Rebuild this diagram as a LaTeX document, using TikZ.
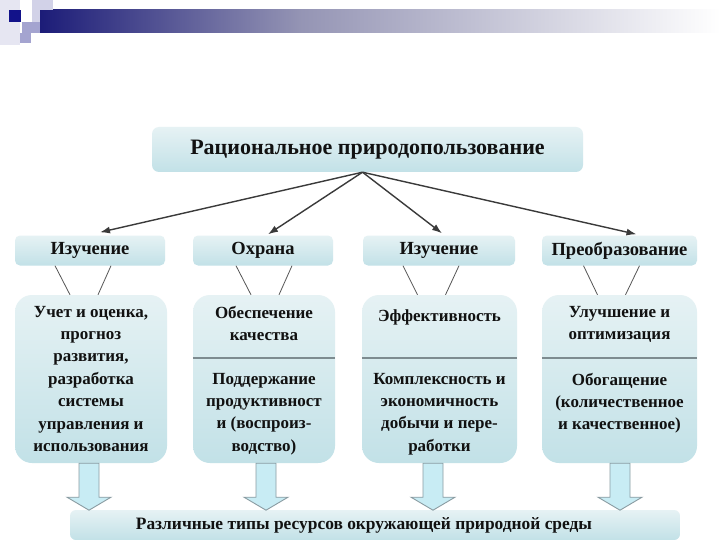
\documentclass[tikz,border=0pt]{standalone}
\usepackage{fontspec}
\setmainfont{Liberation Serif}
\usepackage{tikz}
\usepackage{xcolor}
\usetikzlibrary{arrows.meta,positioning,calc}
\definecolor{ink}{HTML}{111111}
\definecolor{inkgray}{HTML}{3A3A3A}
\definecolor{linegray}{HTML}{555555}
\definecolor{barnavy}{HTML}{1C1C78}
\definecolor{barmid}{HTML}{9494B4}
\definecolor{sqdark}{HTML}{12128A}
\definecolor{sqmid}{HTML}{A4A4D0}
\definecolor{sqlight}{HTML}{D2D2E8}
\definecolor{sqpale}{HTML}{E6E6F2}
\definecolor{boxtop}{HTML}{E6F2F4}
\definecolor{boxbot}{HTML}{C2E1E7}
\definecolor{divgray}{HTML}{7D8B90}
\definecolor{arrfill}{HTML}{C8ECF4}
\definecolor{arrline}{HTML}{8A9CA2}
\tikzset{
  headbox/.style={draw=none,top color=boxtop,bottom color=boxbot,rounded corners=7pt,
                  minimum width=431pt,minimum height=45pt,inner sep=0pt,
                  font=\fontsize{22}{26}\selectfont\bfseries,text=ink},
  catbox/.style={draw=none,top color=boxtop,bottom color=boxbot,rounded corners=5pt,
                 minimum height=30pt,inner sep=0pt,
                 font=\fontsize{18.5}{22}\selectfont\bfseries,text=ink},
  bodybox/.style={draw=none,top color=boxtop,bottom color=boxbot,rounded corners=17pt,
                  minimum height=168pt,inner sep=0pt},
  bodytext/.style={anchor=north,align=center,inner sep=0pt,text=ink,
                   font=\fontsize{17}{22.4}\selectfont\bfseries},
  basebox/.style={draw=none,top color=boxtop,bottom color=boxbot,rounded corners=6pt,
                  minimum width=610pt,minimum height=30pt,inner sep=0pt},
  baselabel/.style={inner sep=0pt,text=ink,font=\fontsize{17.4}{20}\selectfont\bfseries},
  linkarr/.style={-{Latex[length=10pt,width=7pt]},line width=1.4pt,draw=inkgray},
  thinlink/.style={line width=0.8pt,draw=linegray},
  divline/.style={line width=2pt,draw=divgray},
  blockarr/.style={draw=arrline,fill=arrfill,line width=0.9pt,line join=miter}
}

\begin{document}
\begin{tikzpicture}[x=1pt,y=-1pt]
  \useasboundingbox (0,0) rectangle (720,540);
  \fill[white] (0,0) rectangle (720,540);

  % header strip
  \fill[sqpale] (0,0) rectangle (20,45);
  \shade[left color=barnavy,right color=barmid] (40,10) rectangle (300,33);
  \shade[left color=barmid,right color=white] (299,10) rectangle (720,33);
  \fill[sqlight] (32,0) rectangle (53,10);
  \fill[sqlight] (32,10) rectangle (40,22);
  \fill[sqmid] (22,22) rectangle (40,33);
  \fill[sqmid] (20,33) rectangle (31,43);
  \fill[sqdark] (9,10) rectangle (21,22);

  % title and categories
  \node[headbox] (title) at (367.5,149.5) {Рациональное природопользование};
  \node[catbox,minimum width=150pt] (cat1) at (90,250.5) {Изучение};
  \node[catbox,minimum width=140pt] (cat2) at (263,250.5) {Охрана};
  \node[catbox,minimum width=152pt] (cat3) at (439,250.5) {Изучение};
  \node[catbox,minimum width=155pt] (cat4) at (619.5,250.5) {Преобразование};

  \coordinate (hub) at ([xshift=-5pt]title.south);
  \draw[linkarr] (hub) -- ([xshift=10pt,yshift=3pt]cat1.north);
  \draw[linkarr] (hub) -- ([xshift=5pt,yshift=1pt]cat2.north);
  \draw[linkarr] (hub) -- ([xshift=3pt,yshift=2pt]cat3.north);
  \draw[linkarr] (hub) -- ([xshift=17pt,yshift=1pt]cat4.north);

  % content boxes
  \node[bodybox,minimum width=152pt] (body1) at (91,379) {};
  \node[bodybox,minimum width=142pt] (body2) at (264,379) {};
  \node[bodybox,minimum width=155pt] (body3) at (439.5,379) {};
  \node[bodybox,minimum width=155pt] (body4) at (619.5,379) {};

  \foreach \i/\m in {1/-7,2/1,3/-8,4/-8}{
    \draw[thinlink] ([xshift={\m-28}]cat\i.south) -- ([xshift={\m-14}]body\i.north);
    \draw[thinlink] ([xshift={\m+28}]cat\i.south) -- ([xshift={\m+14}]body\i.north);
  }

  \foreach \i in {2,3,4}
    \draw[divline] ([yshift=21pt]body\i.west) -- ([yshift=21pt]body\i.east);

  \node[bodytext] (txt1) at ([yshift=-11pt]body1.north)
    {Учет и оценка,\\прогноз\\развития,\\разработка\\системы\\управления и\\использования};
  \node[bodytext] (txt2a) at ([yshift=-11pt]body2.north) {Обеспечение\\качества};
  \node[bodytext] (txt2b) at ([yshift=-78pt]body2.north)
    {Поддержание\\продуктивност\\и (воспроиз-\\водство)};
  \node[bodytext] (txt3a) at ([yshift=-15pt]body3.north) {Эффективность};
  \node[bodytext] (txt3b) at ([yshift=-78pt]body3.north)
    {Комплексность и\\экономичность\\добычи и пере-\\работки};
  \node[bodytext] (txt4a) at ([yshift=-11pt]body4.north) {Улучшение и\\оптимизация};
  \node[bodytext] (txt4b) at ([yshift=-78pt]body4.north)
    {Обогащение\\(количественное\\и качественное)};

  % resources
  \node[basebox] (base) at (375,525) {};
  \node[baselabel] (baselbl) at ([xshift=-11pt]base.center)
    {Различные типы ресурсов окружающей природной среды};

  \foreach \i/\m in {1/-2,2/2,3/-6.5,4/0.5}
    \draw[blockarr] ([xshift=\m]body\i.south) ++(-10,0) -- ++(0,34) -- ++(-12,0)
      -- ++(22,13) -- ++(22,-13) -- ++(-12,0) -- ++(0,-34) -- cycle;
\end{tikzpicture}
\end{document}
